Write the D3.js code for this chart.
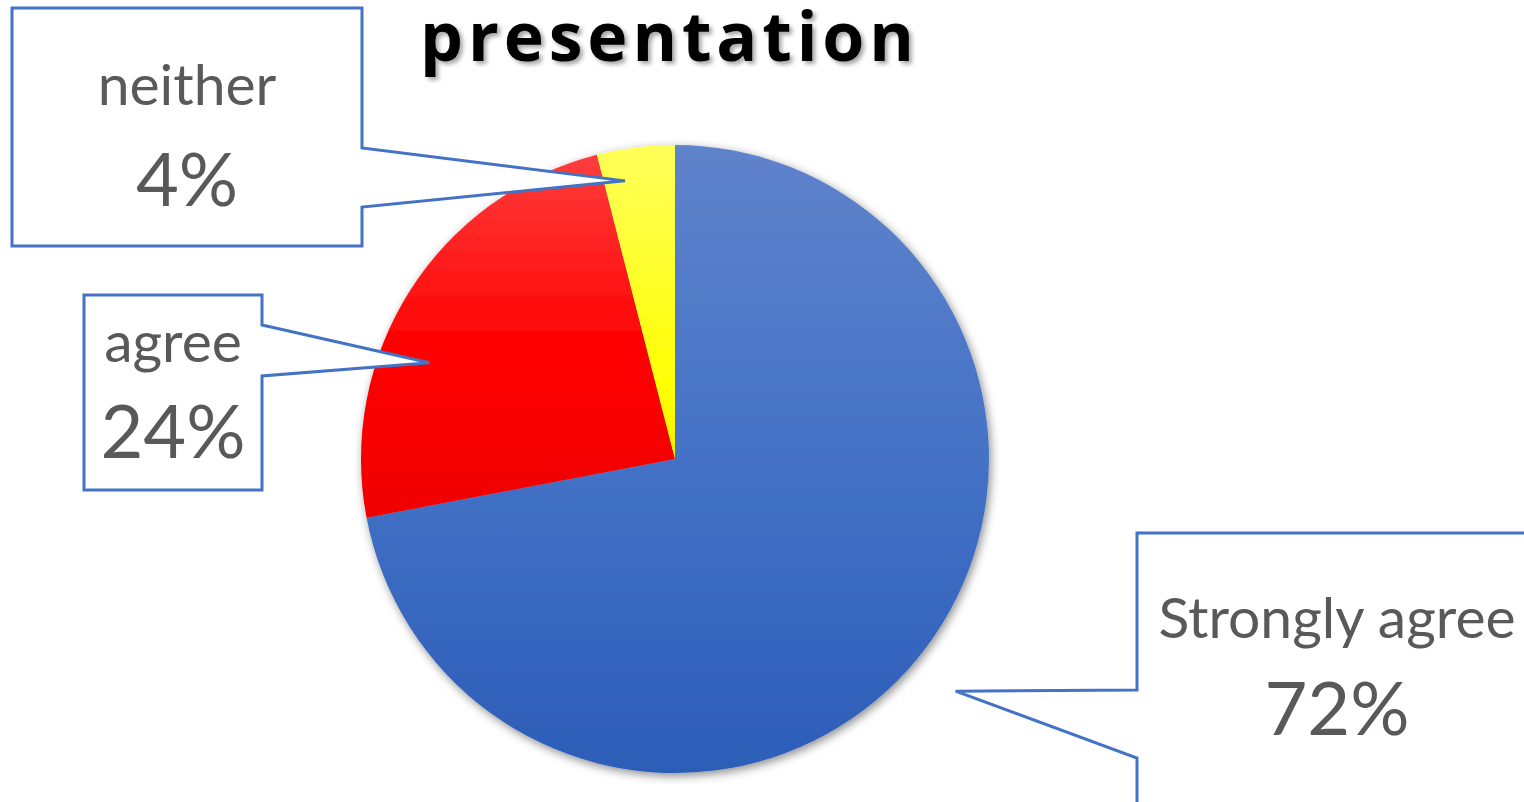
<!DOCTYPE html>
<html>
<head>
<meta charset="utf-8">
<script src="https://cdn.jsdelivr.net/npm/d3@7"></script>
<style>
  html, body { margin: 0; padding: 0; background: #ffffff; overflow: hidden; }
  svg { display: block; }
  text { font-variant-ligatures: none; font-feature-settings: "liga" 0; }
</style>
</head>
<body>
<script>
// Survey responses for the presentation question
const categories = ["Strongly agree", "agree", "neither"];
const values = [72, 24, 4];
const percentLabels = ["72%", "24%", "4%"];

// Fill gradients per slice (top → bottom of the pie)
const gradientStops = [
  [["0", "#5f83cb"], ["0.5", "#4472c6"], ["1", "#2c5db8"]],
  [["0", "#ff4040"], ["0.33", "#ff0000"], ["0.6", "#ee0000"], ["1", "#cc0000"]],
  [["0", "#ffff5a"], ["0.4", "#ffff00"], ["0.5", "#f2ec00"], ["1", "#e0d400"]]
];

// Callout boxes: rectangle, which edge carries the pointer, pointer base span,
// and where the tip lands relative to the slice's mid angle
const callouts = [
  { box: [1137, 533, 420, 300], side: "left",  base: [690, 758], tipAngle: 0,   tipR: 1.16,
    nameY: 638, pctY: 735, textX: 1337 },
  { box: [84, 295, 178, 195],   side: "right", base: [325, 376], tipAngle: -11, tipR: 0.84,
    nameY: 362, pctY: 458, textX: 173 },
  { box: [12, 8, 350, 238],     side: "right", base: [148, 207], tipAngle: -3,  tipR: 0.90,
    nameY: 105, pctY: 206, textX: 187 }
];

const W = 1524, H = 802;
const cx = 675, cy = 459, radius = 314;

const svg = d3.select("body").append("svg")
  .attr("width", W).attr("height", H);

const defs = svg.append("defs");

const pieShadow = defs.append("filter").attr("id", "pieShadow")
  .attr("x", "-10%").attr("y", "-10%").attr("width", "120%").attr("height", "120%");
pieShadow.append("feDropShadow")
  .attr("dx", 2).attr("dy", 3).attr("stdDeviation", 5)
  .attr("flood-color", "#000").attr("flood-opacity", 0.45);

const titleShadow = defs.append("filter").attr("id", "titleShadow")
  .attr("x", "-10%").attr("y", "-30%").attr("width", "120%").attr("height", "160%");
titleShadow.append("feDropShadow")
  .attr("dx", 3).attr("dy", 3).attr("stdDeviation", 2)
  .attr("flood-color", "#000").attr("flood-opacity", 0.35);

gradientStops.forEach((stops, i) => {
  const g = defs.append("linearGradient")
    .attr("id", "grad" + i)
    .attr("gradientUnits", "userSpaceOnUse")
    .attr("x1", 0).attr("x2", 0)
    .attr("y1", -radius).attr("y2", radius);
  stops.forEach(([o, c]) => g.append("stop").attr("offset", o).attr("stop-color", c));
});

// Title
svg.append("text")
  .attr("x", 667).attr("y", 61)
  .attr("text-anchor", "middle")
  .attr("font-family", "'Open Sans', Lato, sans-serif")
  .attr("font-weight", 700)
  .attr("font-size", 68)
  .attr("textLength", 494)
  .attr("lengthAdjust", "spacing")
  .attr("fill", "#000")
  .attr("filter", "url(#titleShadow)")
  .text("presentation");

// Pie
const pie = d3.pie().sort(null).value(d => d)
  .startAngle(0).endAngle(2 * Math.PI);
const arcs = pie(values);
const arc = d3.arc().innerRadius(0).outerRadius(radius);

const pieG = svg.append("g")
  .attr("transform", `translate(${cx},${cy})`)
  .attr("filter", "url(#pieShadow)");

pieG.selectAll("path.slice")
  .data(arcs)
  .join("path")
  .attr("class", "slice")
  .attr("d", arc)
  .attr("fill", (d, i) => `url(#grad${i})`);

// Callouts
const calloutG = svg.append("g");
arcs.forEach((a, i) => {
  const c = callouts[i];
  const mid = (a.startAngle + a.endAngle) / 2 + c.tipAngle * Math.PI / 180;
  const tr = radius * c.tipR;
  const tx = cx + tr * Math.sin(mid);
  const ty = cy - tr * Math.cos(mid);
  const [x, y, w, h] = c.box;
  const p = d3.path();
  if (c.side === "right") {
    p.moveTo(x, y);
    p.lineTo(x + w, y);
    p.lineTo(x + w, c.base[0]);
    p.lineTo(tx, ty);
    p.lineTo(x + w, c.base[1]);
    p.lineTo(x + w, y + h);
    p.lineTo(x, y + h);
    p.closePath();
  } else {
    p.moveTo(x, y);
    p.lineTo(x + w, y);
    p.lineTo(x + w, y + h);
    p.lineTo(x, y + h);
    p.lineTo(x, c.base[1]);
    p.lineTo(tx, ty);
    p.lineTo(x, c.base[0]);
    p.closePath();
  }
  calloutG.append("path")
    .attr("d", p.toString())
    .attr("fill", "#ffffff")
    .attr("stroke", "#4472c4")
    .attr("stroke-width", 3)
    .attr("stroke-linejoin", "miter");

  calloutG.append("text")
    .attr("x", c.textX).attr("y", c.nameY)
    .attr("text-anchor", "middle")
    .attr("font-family", "Lato, 'Open Sans', sans-serif")
    .attr("font-size", 57)
    .attr("fill", "#595959")
    .text(categories[i]);

  calloutG.append("text")
    .attr("x", c.textX).attr("y", c.pctY)
    .attr("text-anchor", "middle")
    .attr("font-family", "Lato, 'Open Sans', sans-serif")
    .attr("font-size", 74)
    .attr("fill", "#595959")
    .text(percentLabels[i]);
});
</script>
</body>
</html>
